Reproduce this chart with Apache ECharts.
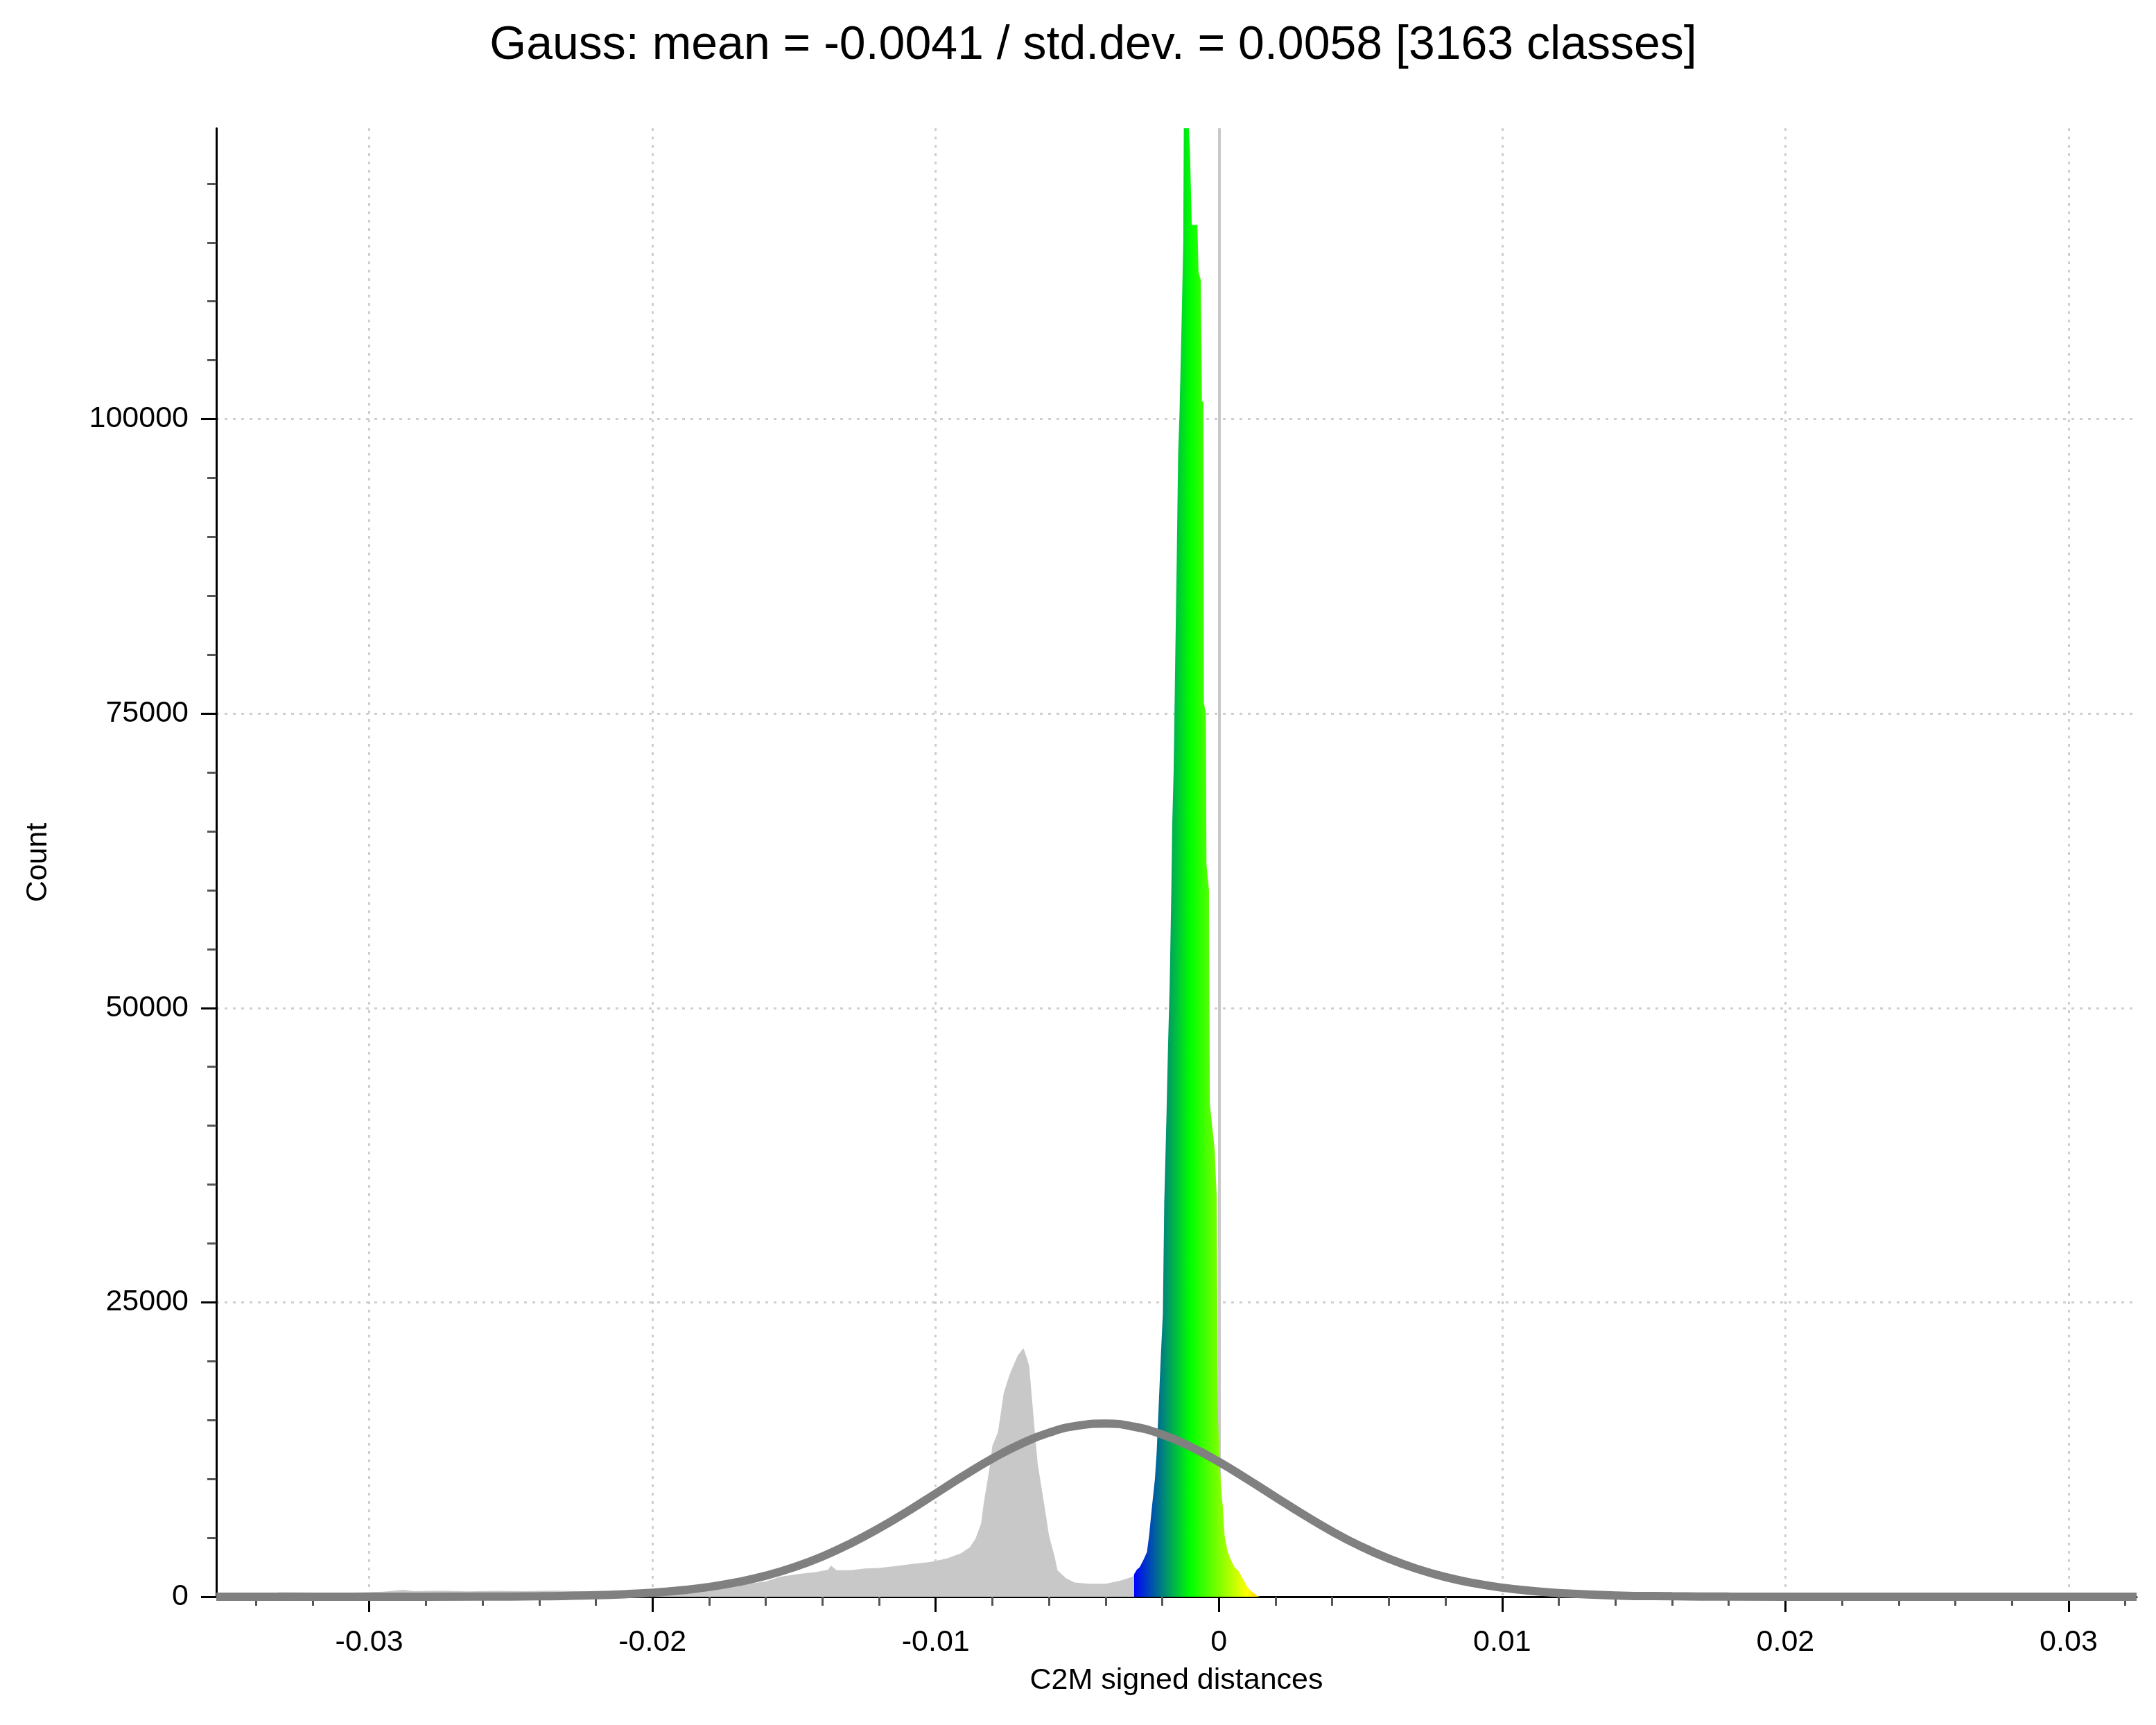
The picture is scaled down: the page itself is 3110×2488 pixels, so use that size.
<!DOCTYPE html>
<html>
<head>
<meta charset="utf-8">
<title>C2M signed distances</title>
<script src="https://cdn.jsdelivr.net/npm/echarts@6/dist/echarts.min.js"></script>
<style>
  html, body { margin: 0; padding: 0; background: #fff; }
  #chart { width: 3110px; height: 2488px; }
</style>
</head>
<body>
<div id="chart"></div>
<script>
// histogram (distance, count)
var histX = [-0.0354, -0.0333, -0.0332, -0.0320, -0.0305, -0.0295, -0.0288, -0.0284, -0.0275, -0.0265,
	-0.0255, -0.0245, -0.0235, -0.0225, -0.0213, -0.0200, -0.0190, -0.0180, -0.0170, -0.0160,
	-0.0155, -0.0148, -0.0142, -0.0138, -0.0137, -0.0135, -0.0130, -0.0125, -0.0120, -0.0114,
	-0.0108, -0.0102, -0.0096, -0.0091, -0.0088, -0.0086, -0.0084, -0.0083, -0.0081, -0.0080,
	-0.0078, -0.0077, -0.0076, -0.0074, -0.0073, -0.0071, -0.0069, -0.0068, -0.0067, -0.0066,
	-0.0065, -0.0064, -0.0062, -0.0061, -0.0060, -0.0058, -0.0057, -0.0054, -0.0051, -0.0046,
	-0.0040, -0.0035, -0.00305,
	-0.0029, -0.0028, -0.00267, -0.00254, -0.00246, -0.00237, -0.00226, -0.0022, -0.00213, -0.00205,
	-0.00198, -0.00193, -0.00185, -0.0018, -0.00174, -0.00168, -0.00165, -0.0016, -0.00154, -0.00149,
	-0.00144, -0.00139, -0.00132, -0.00126, -0.00124, -0.00106, -0.00102, -0.00096, -0.00076, -0.00072,
	-0.00064, -0.0006, -0.00055, -0.00053, -0.00046, -0.00044, -0.00035, -0.00032, -0.00015, -0.00008,
	-0.00003, 0.00003, 0.0001, 0.00014, 0.0002, 0.0003, 0.00041, 0.00055, 0.00069, 0.00085,
	0.00101, 0.00115, 0.00125, 0.00135, 0.00145, 0.0324];
var histCount = [0, 0, 380, 350, 360, 420, 590, 470, 520, 460,
	500, 470, 520, 470, 400, 520, 640, 800, 960, 1300,
	1700, 1950, 2100, 2300, 2650, 2250, 2250, 2400, 2450, 2600,
	2800, 2950, 3250, 3700, 4200, 4900, 6200, 8000, 10900, 12800,
	14000, 15600, 17300, 18800, 19400, 20500, 21100, 20400, 19600, 16800,
	14000, 11300, 8300, 6800, 5200, 3400, 2250, 1570, 1200, 1100,
	1100, 1350, 1700,
	2300, 2500, 3100, 3800, 5300, 7500, 10000, 12200, 16000, 20500,
	24000, 33500, 41000, 46500, 51800, 60000, 65500, 70000, 80000, 88000,
	97000, 100600, 108000, 115000, 124700, 124700, 122600, 116500, 116500, 112500,
	111800, 101500, 101500, 75900, 75000, 62200, 60000, 41800, 38000, 34000,
	15000, 11200, 8500, 7600, 5200, 3900, 3200, 2500, 2200, 1500,
	800, 450, 280, 80, 0, 0];

// fitted gauss curve as drawn
var gaussX = [-0.0354, -0.030, -0.026, -0.024, -0.022, -0.021, -0.020, -0.019, -0.018, -0.017,
	-0.016, -0.015, -0.014, -0.013, -0.012, -0.011, -0.010, -0.009, -0.008, -0.007,
	-0.006, -0.005, -0.004, -0.003, -0.002, -0.001, 0, 0.001, 0.002, 0.003,
	0.004, 0.005, 0.006, 0.007, 0.008, 0.009, 0.010, 0.011, 0.012, 0.014,
	0.016, 0.018, 0.022, 0.0324];
var gaussCount = [0, 1, 12, 40, 130, 210, 340, 540, 830, 1240,
	1790, 2510, 3420, 4530, 5810, 7240, 8760, 10290, 11730, 12970,
	13930, 14520, 14700, 14440, 13770, 12740, 11450, 9990, 8460, 6950,
	5540, 4290, 3230, 2360, 1670, 1150, 770, 500, 310, 110,
	40, 10, 1, 0];

// ticks
var xLabels = [-0.03, -0.02, -0.01, 0, 0.01, 0.02, 0.03];
var xMinor = [-0.034, -0.032, -0.028, -0.026, -0.024, -0.022, -0.018, -0.016, -0.014, -0.012,
	-0.008, -0.006, -0.004, -0.002, 0.002, 0.004, 0.006, 0.008, 0.012, 0.014,
	0.016, 0.018, 0.022, 0.024, 0.026, 0.028, 0.032];
var yLabels = [0, 25000, 50000, 75000, 100000];
var yMinor = [5000, 10000, 15000, 20000, 30000, 35000, 40000, 45000, 55000, 60000,
	65000, 70000, 80000, 85000, 90000, 95000, 105000, 110000, 115000, 120000];

var xMin = -0.0354, xMax = 0.0324, yMax = 124700;

function pairs(xs, ys) {
	return xs.map(function (x, i) { return [x, ys[i]]; });
}

var labelFont = { fontFamily: 'Liberation Sans', fontSize: 43, color: '#000' };
var dotted = { color: '#cfcfcf', width: 3, type: [4, 8] };

var chart = echarts.init(document.getElementById('chart'));
chart.setOption({
	animation: false,
	backgroundColor: '#fff',
	title: {
		text: 'Gauss: mean = -0.0041 / std.dev. = 0.0058 [3163 classes]',
		left: 1572,
		top: 27,
		textAlign: 'center',
		textStyle: { fontFamily: 'Liberation Sans', fontSize: 68, fontWeight: 'normal', color: '#000' }
	},
	grid: { left: 312, right: 28, top: 185, bottom: 185 },
	visualMap: {
		type: 'continuous',
		show: false,
		seriesIndex: 0,
		dimension: 0,
		min: -0.00301,
		max: 0.00301,
		range: [-0.003, 0.003],
		inRange: { color: ['#0000ff', '#00ff00', '#ffff00', '#ff0000'] },
		outOfRange: { color: '#c8c8c8' }
	},
	xAxis: [{
		type: 'value', min: xMin, max: xMax, position: 'bottom',
		name: 'C2M signed distances', nameLocation: 'middle', nameGap: 100,
		nameTextStyle: labelFont,
		axisLine: { onZero: false, lineStyle: { color: '#000', width: 3 } },
		axisTick: { customValues: xLabels, length: 22, lineStyle: { color: '#000', width: 3 } },
		axisLabel: Object.assign({ customValues: xLabels, margin: 45 }, labelFont),
		splitLine: { show: true, lineStyle: dotted }
	}, {
		type: 'value', min: xMin, max: xMax, position: 'bottom',
		axisLine: { show: false, onZero: false },
		axisTick: { customValues: xMinor, length: 13, lineStyle: { color: '#555', width: 3 } },
		axisLabel: { show: false },
		splitLine: { show: false }
	}],
	yAxis: [{
		type: 'value', min: 0, max: yMax, position: 'left',
		name: 'Count', nameLocation: 'middle', nameGap: 235,
		nameTextStyle: labelFont,
		axisLine: { show: true, onZero: false, lineStyle: { color: '#000', width: 3 } },
		axisTick: { show: true, customValues: yLabels, length: 22, lineStyle: { color: '#000', width: 3 } },
		axisLabel: Object.assign({
			customValues: yLabels, margin: 40,
			formatter: function (v) { return String(v); }
		}, labelFont),
		splitLine: { show: true, lineStyle: dotted }
	}, {
		type: 'value', min: 0, max: yMax, position: 'left',
		axisLine: { show: false, onZero: false },
		axisTick: { show: true, customValues: yMinor, length: 13, lineStyle: { color: '#555', width: 3 } },
		axisLabel: { show: false },
		splitLine: { show: false }
	}],
	series: [{
		name: 'histogram',
		type: 'line',
		data: pairs(histX, histCount),
		showSymbol: false,
		lineStyle: { width: 0 },
		areaStyle: { opacity: 1 },
		z: 2,
		markLine: {
			silent: true,
			z: 1,
			symbol: 'none',
			label: { show: false },
			lineStyle: { color: '#c8c8c8', width: 4, type: 'solid' },
			data: [{ xAxis: 0 }]
		}
	}, {
		name: 'gauss',
		type: 'line',
		data: pairs(gaussX, gaussCount),
		smooth: true,
		showSymbol: false,
		lineStyle: { color: '#808080', width: 12 },
		z: 3
	}]
});
</script>
</body>
</html>
